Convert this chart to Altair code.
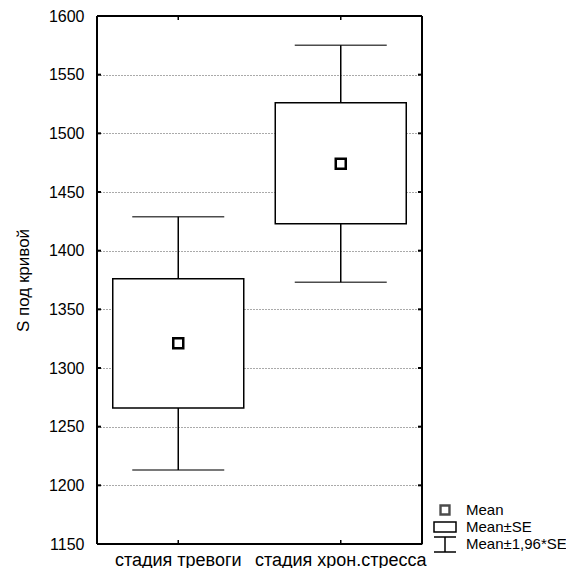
import altair as alt
import pandas as pd

categories = ["стадия тревоги", "стадия хрон.стресса"]
means = [1321, 1474]
se_low = [1266, 1423]
se_high = [1376, 1526]
ci_low = [1213, 1373]
ci_high = [1429, 1575]
y_ticks = [1150, 1200, 1250, 1300, 1350, 1400, 1450, 1500, 1550, 1600]
legend_labels = ["Mean", "Mean±SE", "Mean±1,96*SE"]

df = pd.DataFrame({
    "cat": categories, "mean": means,
    "se_low": se_low, "se_high": se_high,
    "ci_low": ci_low, "ci_high": ci_high,
})
ticks_df = pd.DataFrame({"v": y_ticks})
cats_df = pd.DataFrame({"cat": categories})

W, H = 325, 528
FONT = "Liberation Sans"

xsc = alt.Scale(domain=categories, paddingInner=0, paddingOuter=0)
ysc = alt.Scale(domain=[1150, 1600], nice=False, zero=False)

X = alt.X("cat:N", scale=xsc, sort=categories,
          axis=alt.Axis(title=None, labelAngle=0, domain=False, ticks=False,
                        labelFontSize=18, labelPadding=7, labelColor="black",
                        labelFont=FONT))
Xp = alt.X("cat:N", scale=xsc, sort=categories)
Y_axis = alt.Axis(title="S под кривой", values=y_ticks, grid=True, format="d",
                  gridDash=[1, 2], gridColor="#555", gridWidth=1,
                  domain=False, ticks=False, labelFontSize=16, labelPadding=13,
                  labelColor="black", labelFont=FONT, titleFont=FONT,
                  titleFontSize=17, titleFontWeight="normal", titleColor="black",
                  titlePadding=16)

base = alt.Chart(df)

box = base.mark_bar(width=131, fill="white", stroke="black", strokeWidth=1.5).encode(
    x=X,
    y=alt.Y("se_high:Q", scale=ysc, axis=Y_axis),
    y2="se_low:Q",
)
wh_up = base.mark_rule(color="black", strokeWidth=1.5).encode(
    x=Xp, y=alt.Y("se_high:Q", scale=ysc), y2="ci_high:Q")
wh_lo = base.mark_rule(color="black", strokeWidth=1.5).encode(
    x=Xp, y=alt.Y("ci_low:Q", scale=ysc), y2="se_low:Q")
cap_hi = base.mark_tick(size=92, thickness=1.5, color="black", orient="horizontal").encode(
    x=Xp, y=alt.Y("ci_high:Q", scale=ysc))
cap_lo = base.mark_tick(size=92, thickness=1.5, color="black", orient="horizontal").encode(
    x=Xp, y=alt.Y("ci_low:Q", scale=ysc))
mean_pt = base.mark_square(size=100, fill="white", stroke="black", strokeWidth=2.5, opacity=1).encode(
    x=Xp, y=alt.Y("mean:Q", scale=ysc))

# inward ticks on all four sides
tk = alt.Chart(ticks_df)
lt = tk.mark_rule(color="black", strokeWidth=2).encode(
    y=alt.Y("v:Q", scale=ysc), x=alt.value(0), x2=alt.value(4))
rt = tk.mark_rule(color="black", strokeWidth=2).encode(
    y=alt.Y("v:Q", scale=ysc), x=alt.value(W - 4), x2=alt.value(W))
ck = alt.Chart(cats_df)
bt = ck.mark_rule(color="black", strokeWidth=1.5).encode(
    x=Xp, y=alt.value(H - 4), y2=alt.value(H))
tt = ck.mark_rule(color="black", strokeWidth=1.5).encode(
    x=Xp, y=alt.value(0), y2=alt.value(4))

# plot frame
fr = pd.DataFrame({"f": [0]})
frame = [
    alt.Chart(fr).mark_rule(color="black", strokeWidth=2, clip=False).encode(
        x=alt.value(0), x2=alt.value(W), y=alt.value(0)),
    alt.Chart(fr).mark_rule(color="black", strokeWidth=2, clip=False).encode(
        x=alt.value(0), x2=alt.value(W), y=alt.value(H)),
    alt.Chart(fr).mark_rule(color="black", strokeWidth=2, clip=False).encode(
        x=alt.value(0), y=alt.value(0), y2=alt.value(H)),
    alt.Chart(fr).mark_rule(color="black", strokeWidth=2, clip=False).encode(
        x=alt.value(W), y=alt.value(0), y2=alt.value(H)),
]

# legend (decoration, outside plot area)
sx0 = W + 12  # symbol left edge
sx1 = sx0 + 22
sxm = sx0 + 11
sq_df = pd.DataFrame({"label": [legend_labels[0]]})
se_df = pd.DataFrame({"label": [legend_labels[1]]})
ci_df = pd.DataFrame({"label": [legend_labels[2]]})

leg_sq = alt.Chart(sq_df).mark_square(size=80, fill="white", stroke="black",
                                      strokeWidth=2.4, clip=False).encode(
    x=alt.value(sxm), y=alt.value(H - 34))
leg_box = alt.Chart(se_df).mark_rect(fill="white", stroke="black", strokeWidth=1.5,
                                     clip=False).encode(
    x=alt.value(sx0), x2=alt.value(sx1), y=alt.value(H - 22), y2=alt.value(H - 12))
leg_w1 = alt.Chart(ci_df).mark_rule(color="black", strokeWidth=1.5, clip=False).encode(
    x=alt.value(sx0), x2=alt.value(sx1), y=alt.value(H - 7))
leg_w2 = alt.Chart(ci_df).mark_rule(color="black", strokeWidth=1.5, clip=False).encode(
    x=alt.value(sx0), x2=alt.value(sx1), y=alt.value(H + 8))
leg_w3 = alt.Chart(ci_df).mark_rule(color="black", strokeWidth=1.5, clip=False).encode(
    x=alt.value(sxm), y=alt.value(H - 7), y2=alt.value(H + 8))

def leg_text(d, yv):
    return alt.Chart(d).mark_text(align="left", baseline="middle", fontSize=15, font=FONT,
                                  color="black", clip=False).encode(
        x=alt.value(W + 44), y=alt.value(yv), text="label:N")

t1 = leg_text(sq_df, H - 34)
t2 = leg_text(se_df, H - 17)
t3 = leg_text(ci_df, H)

chart = alt.layer(
    box, wh_up, wh_lo, cap_hi, cap_lo, mean_pt, lt, rt, bt, tt, *frame,
    leg_sq, leg_box, leg_w1, leg_w2, leg_w3, t1, t2, t3,
).properties(
    width=W, height=H,
    autosize=alt.AutoSizeParams(type="none"),
    padding={"left": 89, "top": 8, "right": 144, "bottom": 24},
).configure(background="white").configure_view(stroke=None)

chart.save("out.html", embed_options={"renderer": "svg", "actions": False})
